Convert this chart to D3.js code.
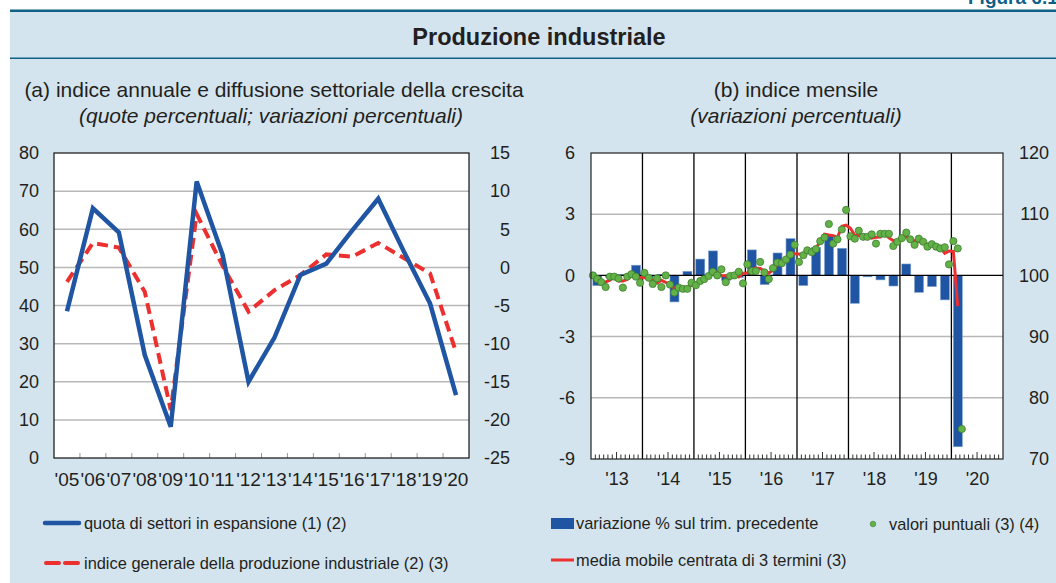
<!DOCTYPE html>
<html>
<head>
<meta charset="utf-8">
<script src="https://cdn.jsdelivr.net/npm/d3@7"></script>
<style>
  body { margin: 0; background: #fff; }
  svg { display: block; font-family: "Liberation Sans", Arial, sans-serif; }
</style>
</head>
<body>
<script>
let w = 1056;
let h = 583;

// panel (a): annual data
let years = ['05', '06', '07', '08', '09', '10', '11', '12', '13', '14', '15', '16', '17', '18', '19', '20'];
let quota = [38.5, 65.5, 59.2, 27, 8.2, 72.5, 53.3, 20, 31.6, 48, 51, 59.7, 68, 54, 40.5, 16.5];
let indice = [-1.9, 3.2, 2.6, -3.2, -18.7, 7.0, 0.2, -5.8, -3.0, -1.0, 1.7, 1.4, 3.2, 1.2, -0.8, -11.1];
let leftTicksA = [0, 10, 20, 30, 40, 50, 60, 70, 80];
let rightTicksA = [-25, -20, -15, -10, -5, 0, 5, 10, 15];

// panel (b): quarterly bars (2013 Q1 .. 2020 Q1), left axis
let quarterly = [-0.5, -0.1, 0.05, 0.5, -0.1, 0.05, -1.3, 0.2, 0.8, 1.2, -0.25, -0.1,
  1.25, -0.45, 1.1, 1.8, -0.5, 1.37, 1.98, 1.33, -1.37, -0.07, -0.22, -0.52,
  0.56, -0.83, -0.55, -1.2, -8.4];
// monthly index values (Jan 2013 .. Mar 2020), right axis
let monthly = [100.0, 99.4, 98.9, 98.1, 99.8, 99.8, 99.5, 98.0, 99.8, 100.2, 99.8, 98.8,
  100.4, 99.6, 98.6, 99.5, 98.1, 100.0, 98.5, 97.2, 98.0, 97.8, 97.8, 98.8,
  98.4, 99.1, 99.4, 99.9, 100.6, 100.0, 101.0, 98.9, 99.9, 100.0, 100.6, 98.7,
  101.8, 100.7, 100.7, 102.2, 100.5, 99.4, 101.2, 102.1, 102.0, 102.6, 103.4, 105.0,
  102.2, 103.3, 104.1, 103.8, 104.3, 105.6, 106.2, 108.4, 105.2, 105.9, 107.5, 110.7,
  106.4, 106.0, 107.3, 106.3, 106.3, 106.7, 105.2, 106.8, 106.8, 106.8, 104.8, 105.5,
  106.1, 107.0, 105.9, 105.0, 106.0, 105.5, 104.7, 105.1, 104.7, 104.4, 104.6, 101.8,
  105.6, 104.4, 74.9];
// centred 3-term moving average (Feb 2013 .. Feb 2020)
let movingAvg = [99.43, 98.80, 98.93, 99.23, 99.70, 99.10, 99.10, 99.33, 99.93, 99.60, 99.67,
  99.60, 99.53, 99.23, 98.73, 99.20, 98.87, 98.57, 97.90, 97.67, 97.87, 98.13, 98.33,
  98.77, 98.97, 99.47, 99.97, 100.17, 100.53, 99.97, 99.93, 99.60, 100.17, 99.77, 100.37,
  100.40, 101.07, 101.20, 101.13, 100.70, 100.37, 100.90, 101.77, 102.23, 102.67, 103.67, 103.53,
  103.50, 103.20, 103.73, 104.07, 104.57, 105.37, 106.73, 106.60, 106.50, 106.20, 108.03, 108.20,
  107.70, 106.57, 106.53, 106.63, 106.43, 106.07, 106.23, 106.27, 106.80, 106.13, 105.70, 105.47,
  106.20, 106.33, 105.97, 105.63, 105.50, 105.40, 105.10, 104.83, 104.73, 104.57, 103.60, 104.00,
  103.93, 94.97];
let leftTicksB = [-9, -6, -3, 0, 3, 6];
let rightTicksB = [70, 80, 90, 100, 110, 120];
let yearLabelsB = [2013, 2014, 2015, 2016, 2017, 2018, 2019, 2020];

let blue = '#1f55a3';
let red = '#ec2f2f';
let green = '#62b247';
let textColor = '#231f20';
let frameBlue = '#0f5f87';

let svg = d3.select('body')
  .append('svg')
  .attr('width', w)
  .attr('height', h);

// background and header
svg.append('rect')
  .attr('x', 10).attr('y', 11)
  .attr('width', w - 10).attr('height', h - 11)
  .attr('fill', '#d3e4ee');

svg.append('text')
  .attr('x', 968).attr('y', 4)
  .attr('fill', frameBlue)
  .attr('font-weight', 'bold')
  .attr('font-size', 19)
  .text('Figura 6.1');

svg.append('line')
  .attr('x1', 10).attr('x2', w)
  .attr('y1', 10.8).attr('y2', 10.8)
  .attr('stroke', frameBlue)
  .attr('stroke-width', 2.6);

svg.append('line')
  .attr('x1', 10).attr('x2', w)
  .attr('y1', 58.2).attr('y2', 58.2)
  .attr('stroke', frameBlue)
  .attr('stroke-width', 1.6);

svg.append('text')
  .attr('x', 539).attr('y', 45)
  .attr('text-anchor', 'middle')
  .attr('font-weight', 'bold')
  .attr('font-size', 23.5)
  .attr('fill', textColor)
  .text('Produzione industriale');

let subtitles = [
  { x: 274, y: 97, t: '(a) indice annuale e diffusione settoriale della crescita', it: false },
  { x: 271, y: 123, t: '(quote percentuali; variazioni percentuali)', it: true },
  { x: 796, y: 97, t: '(b) indice mensile', it: false },
  { x: 796, y: 123, t: '(variazioni percentuali)', it: true }
];

svg.selectAll('.subtitle')
  .data(subtitles)
  .enter()
  .append('text')
  .attr('class', 'subtitle')
  .attr('x', (d) => { return d.x; })
  .attr('y', (d) => { return d.y; })
  .attr('text-anchor', 'middle')
  .attr('font-size', 21)
  .attr('font-style', (d) => { return d.it ? 'italic' : 'normal'; })
  .attr('fill', textColor)
  .text((d) => { return d.t; });

// ---------- panel (a) ----------
let ax0 = 54, ax1 = 469, ay0 = 153, ay1 = 458;

let xA = d3.scaleBand()
  .domain(years)
  .range([ax0, ax1]);

let yLeftA = d3.scaleLinear()
  .domain([0, 80])
  .range([ay1, ay0]);

let yRightA = d3.scaleLinear()
  .domain([-25, 15])
  .range([ay1, ay0]);

let pa = svg.append('g');

pa.append('rect')
  .attr('x', ax0).attr('y', ay0)
  .attr('width', ax1 - ax0).attr('height', ay1 - ay0)
  .attr('fill', '#fff');

pa.selectAll('.grid')
  .data(leftTicksA.slice(1, -1))
  .enter()
  .append('line')
  .attr('class', 'grid')
  .attr('x1', ax0).attr('x2', ax1)
  .attr('y1', (d) => { return yLeftA(d); })
  .attr('y2', (d) => { return yLeftA(d); })
  .attr('stroke', '#b8b8b8')
  .attr('stroke-width', 1.5);

pa.selectAll('.ctick')
  .data(years.slice(1))
  .enter()
  .append('line')
  .attr('class', 'ctick')
  .attr('x1', (d) => { return xA(d); })
  .attr('x2', (d) => { return xA(d); })
  .attr('y1', ay1).attr('y2', ay1 - 5)
  .attr('stroke', '#999')
  .attr('stroke-width', 1);

pa.append('rect')
  .attr('x', ax0).attr('y', ay0)
  .attr('width', ax1 - ax0).attr('height', ay1 - ay0)
  .attr('fill', 'none')
  .attr('stroke', '#111')
  .attr('stroke-width', 1.2);

let lineQuota = d3.line()
  .x((d, i) => { return xA(years[i]) + xA.bandwidth() / 2; })
  .y((d) => { return yLeftA(d); });

let lineIndice = d3.line()
  .x((d, i) => { return xA(years[i]) + xA.bandwidth() / 2; })
  .y((d) => { return yRightA(d); });

pa.append('path')
  .datum(indice)
  .attr('d', lineIndice)
  .attr('fill', 'none')
  .attr('stroke', red)
  .attr('stroke-width', 4)
  .attr('stroke-dasharray', '11,6');

pa.append('path')
  .datum(quota)
  .attr('d', lineQuota)
  .attr('fill', 'none')
  .attr('stroke', blue)
  .attr('stroke-width', 4.5)
  .attr('stroke-linejoin', 'miter');

let hyphen = (d) => { return String(d).replace('\u2212', '-'); };

function styleAxis(g, size) {
  g.select('.domain').remove();
  g.selectAll('.tick line').remove();
  g.selectAll('.tick text')
    .attr('font-size', size)
    .attr('fill', textColor)
    .attr('font-family', '"Liberation Sans", Arial, sans-serif');
}

pa.append('g')
  .attr('transform', 'translate(39, 0)')
  .call(d3.axisLeft(yLeftA).tickValues(leftTicksA).tickSize(0).tickPadding(0).tickFormat(hyphen))
  .call(styleAxis, 18);

pa.append('g')
  .attr('transform', 'translate(510, 0)')
  .call(d3.axisLeft(yRightA).tickValues(rightTicksA).tickSize(0).tickPadding(0).tickFormat(hyphen))
  .call(styleAxis, 18);

pa.append('g')
  .attr('transform', 'translate(0, 472)')
  .call(d3.axisBottom(xA).tickSize(0).tickPadding(0).tickFormat((d) => { return "'" + d; }))
  .call(styleAxis, 19);

// ---------- panel (b) ----------
let bx0 = 591, bx1 = 1003, by0 = 153, by1 = 459;

let xB = d3.scaleTime()
  .domain([new Date(2013, 0, 1), new Date(2021, 0, 1)])
  .range([bx0, bx1]);

let yLeftB = d3.scaleLinear()
  .domain([-9, 6])
  .range([by1, by0]);

let yRightB = d3.scaleLinear()
  .domain([70, 120])
  .range([by1, by0]);

let pb = svg.append('g');

pb.append('rect')
  .attr('x', bx0).attr('y', by0)
  .attr('width', bx1 - bx0).attr('height', by1 - by0)
  .attr('fill', '#fff');

pb.selectAll('.grid')
  .data([-6, -3, 3])
  .enter()
  .append('line')
  .attr('class', 'grid')
  .attr('x1', bx0).attr('x2', bx1)
  .attr('y1', (d) => { return yLeftB(d); })
  .attr('y2', (d) => { return yLeftB(d); })
  .attr('stroke', '#b8b8b8')
  .attr('stroke-width', 1.5);

let yearBounds = yearLabelsB.slice(1).map((y) => { return new Date(y, 0, 1); });

pb.selectAll('.ybound')
  .data(yearBounds)
  .enter()
  .append('line')
  .attr('class', 'ybound')
  .attr('x1', (d) => { return xB(d); })
  .attr('x2', (d) => { return xB(d); })
  .attr('y1', by0).attr('y2', by1)
  .attr('stroke', '#000')
  .attr('stroke-width', 1.3);

let months = d3.timeMonth.range(new Date(2013, 1, 1), new Date(2021, 0, 1))
  .filter((d) => { return d.getMonth() !== 0; });

pb.selectAll('.mtick')
  .data(months)
  .enter()
  .append('line')
  .attr('class', 'mtick')
  .attr('x1', (d) => { return xB(d); })
  .attr('x2', (d) => { return xB(d); })
  .attr('y1', by1)
  .attr('y2', (d) => { return d.getMonth() === 6 ? by1 - 7 : by1 - 4.5; })
  .attr('stroke', '#333')
  .attr('stroke-width', 1);

let quarterStarts = quarterly.map((v, i) => { return new Date(2013, i * 3, 1); });

pb.selectAll('.bar')
  .data(quarterly)
  .enter()
  .append('rect')
  .attr('class', 'bar')
  .attr('x', (d, i) => {
    let a = xB(quarterStarts[i]);
    let b = xB(new Date(2013, i * 3 + 3, 1));
    return (a + b) / 2 - 4.5;
  })
  .attr('width', 9)
  .attr('y', (d) => { return yLeftB(Math.max(0, d)); })
  .attr('height', (d) => { return Math.abs(yLeftB(d) - yLeftB(0)); })
  .attr('fill', blue)
  .attr('stroke', '#7fa3d0')
  .attr('stroke-width', 0.6);

pb.append('line')
  .attr('x1', bx0).attr('x2', bx1)
  .attr('y1', yLeftB(0)).attr('y2', yLeftB(0))
  .attr('stroke', '#000')
  .attr('stroke-width', 1.3);

let maLine = d3.line()
  .x((d, i) => { return xB(new Date(2013, i + 1, 15)); })
  .y((d) => { return yRightB(d); });

pb.append('path')
  .datum(movingAvg)
  .attr('d', maLine)
  .attr('fill', 'none')
  .attr('stroke', red)
  .attr('stroke-width', 3);

pb.selectAll('.dot')
  .data(monthly)
  .enter()
  .append('circle')
  .attr('class', 'dot')
  .attr('cx', (d, i) => { return xB(new Date(2013, i, 15)); })
  .attr('cy', (d) => { return yRightB(d); })
  .attr('r', 3.6)
  .attr('fill', green)
  .attr('stroke', '#3f7d31')
  .attr('stroke-width', 0.8);

pb.append('rect')
  .attr('x', bx0).attr('y', by0)
  .attr('width', bx1 - bx0).attr('height', by1 - by0)
  .attr('fill', 'none')
  .attr('stroke', '#222')
  .attr('stroke-width', 1.2);

pb.append('g')
  .attr('transform', 'translate(575, 0)')
  .call(d3.axisLeft(yLeftB).tickValues(leftTicksB).tickSize(0).tickPadding(0).tickFormat(hyphen))
  .call(styleAxis, 18);

pb.append('g')
  .attr('transform', 'translate(1049, 0)')
  .call(d3.axisLeft(yRightB).tickValues(rightTicksB).tickSize(0).tickPadding(0))
  .call(styleAxis, 18);

pb.append('g')
  .attr('transform', 'translate(0, 472)')
  .call(d3.axisBottom(xB)
    .tickValues(yearLabelsB.map((y) => { return new Date(y, 6, 1); }))
    .tickSize(0).tickPadding(0)
    .tickFormat((d) => { return "'" + String(d.getFullYear()).slice(2); }))
  .call(styleAxis, 18);

// ---------- legend ----------
let lg = svg.append('g')
  .attr('font-size', 16.4)
  .attr('fill', textColor);

lg.append('line')
  .attr('x1', 45).attr('x2', 79).attr('y1', 523).attr('y2', 523)
  .attr('stroke', blue).attr('stroke-width', 4.5).attr('stroke-linecap', 'round');
lg.append('text').attr('x', 84).attr('y', 529).text('quota di settori in espansione (1) (2)');

lg.append('line')
  .attr('x1', 46).attr('x2', 79).attr('y1', 563).attr('y2', 563)
  .attr('stroke', red).attr('stroke-width', 4).attr('stroke-dasharray', '13,6')
  .attr('stroke-linecap', 'round');
lg.append('text').attr('x', 84).attr('y', 569).text('indice generale della produzione industriale (2) (3)');

lg.append('rect')
  .attr('x', 551).attr('y', 518).attr('width', 23).attr('height', 11)
  .attr('fill', blue);
lg.append('text').attr('x', 576).attr('y', 529).text('variazione % sul trim. precedente');

lg.append('circle')
  .attr('cx', 873).attr('cy', 524).attr('r', 2.8)
  .attr('fill', green).attr('stroke', '#3f7d31').attr('stroke-width', 0.6);
lg.append('text').attr('x', 889).attr('y', 530).text('valori puntuali (3) (4)');

lg.append('line')
  .attr('x1', 551).attr('x2', 574).attr('y1', 560).attr('y2', 560)
  .attr('stroke', red).attr('stroke-width', 3);
lg.append('text').attr('x', 576).attr('y', 566).text('media mobile centrata di 3 termini (3)');
</script>
</body>
</html>
